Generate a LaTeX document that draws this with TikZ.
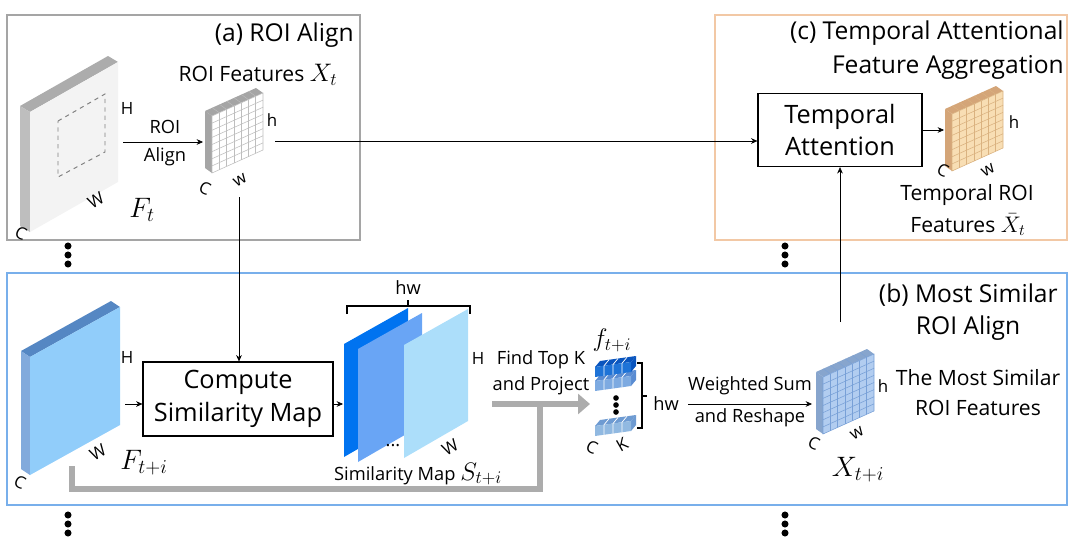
\RequirePackage{fix-cm}
\documentclass[tikz,border=0pt]{standalone}
\usepackage{fontspec}
\setmainfont{Open Sans}
\usetikzlibrary{arrows.meta}

\definecolor{grpA}{RGB}{165,165,165}
\definecolor{grpB}{RGB}{120,175,235}
\definecolor{grpC}{RGB}{242,200,165}
\definecolor{arrgray}{RGB}{172,172,172}
\definecolor{slabfront}{RGB}{243,243,243}
\definecolor{slabside}{RGB}{190,190,190}
\definecolor{slabtop}{RGB}{172,172,172}
\definecolor{bslabfront}{RGB}{145,205,250}
\definecolor{bslabside}{RGB}{130,170,220}
\definecolor{bslabtop}{RGB}{85,135,195}
\definecolor{sheetA}{RGB}{0,115,240}
\definecolor{sheetB}{RGB}{105,165,245}
\definecolor{sheetC}{RGB}{172,222,250}
\definecolor{xtfront}{RGB}{255,255,255}
\definecolor{xtline}{RGB}{190,190,190}
\definecolor{xtside}{RGB}{165,165,165}
\definecolor{tmpfront}{RGB}{248,222,180}
\definecolor{tmpline}{RGB}{218,178,128}
\definecolor{tmpside}{RGB}{212,165,120}
\definecolor{xsfront}{RGB}{178,205,240}
\definecolor{xsline}{RGB}{120,160,215}
\definecolor{xsside}{RGB}{135,165,205}
\definecolor{rowA}{RGB}{30,115,215}
\definecolor{rowAt}{RGB}{10,85,190}
\definecolor{rowB}{RGB}{125,170,225}
\definecolor{rowBt}{RGB}{90,140,210}
\definecolor{rowC}{RGB}{145,185,225}
\definecolor{rowCt}{RGB}{110,155,210}

% small ROI feature block: x, y of front bottom-left corner, front, grid, side colours
\newcommand{\roiblock}[5]{%
  \begin{scope}[shift={(#1,#2)}]
    \fill[#5] (0,-57) -- (51,-80) -- (44,-85) -- (-7,-62) -- cycle;
    \fill[#5] (0,0) -- (0,-57) -- (-7,-62) -- (-7,-5) -- cycle;
    \foreach \i in {1,...,6}
      \draw[#4, line width=0.3pt] ({\i*51/7},{-57-\i*23/7}) -- ++(-7,-5);
    \filldraw[fill=#3, draw=#4, line width=0.4pt] (0,0) -- (51,-23) -- (51,-80) -- (0,-57) -- cycle;
    \foreach \i in {1,...,6}
      \draw[#4, line width=0.4pt] ({\i*51/7},{-\i*23/7}) -- ++(0,-57);
    \foreach \j in {1,...,7}
      \draw[#4, line width=0.4pt] (0,{-\j*57/8}) -- ++(51,-23);
  \end{scope}}

\begin{document}
\begin{tikzpicture}[x=0.025cm, y=-0.025cm,
  >={Stealth[length=4.5pt,width=4pt]},
  grp/.style={line width=2pt},
  box/.style={draw, line width=0.8pt, align=center, inner sep=0pt, font=\fontsize{18}{23}\selectfont},
  ttl/.style={font=\fontsize{17.5}{21}\selectfont, inner sep=0pt},
  lbl/.style={font=\fontsize{15}{18}\selectfont, align=center, inner sep=0pt},
  arrlbl/.style={font=\fontsize{13}{16}\selectfont, inner sep=0pt},
  dim/.style={font=\fontsize{12}{14}\selectfont, inner sep=0pt},
  bigmath/.style={font=\fontsize{20}{24}\selectfont, inner sep=0pt}]
  \useasboundingbox (0,0) rectangle (1080,552);

  % frames
  \draw[grp, grpA] (7,15) rectangle (360,240);
  \draw[grp, grpC] (715,15) rectangle (1067,240);
  \draw[grp, grpB] (7,273) rectangle (1067,505);
  \foreach \px in {68,785}
    \foreach \py in {246,255,264,515,524,533}
      \fill (\px,\py) circle[radius=2.5pt];

  % (a) ROI Align
  \node[ttl, anchor=east] (ttl-a) at (354,35) {(a) ROI Align};
  \fill[slabtop] (30,112) -- (118,62) -- (108,56) -- (20,106) -- cycle;
  \fill[slabside] (30,112) -- (20,106) -- (20,226) -- (30,232) -- cycle;
  \fill[slabfront] (30,232) -- (118,182) -- (118,62) -- (30,112) -- cycle;
  \draw[gray, dashed, line width=0.7pt] (58,121) -- (105,94) -- (105,152) -- (58,177) -- cycle;
  \node[dim] (ft-H) at (127,108) {H};
  \node[dim, rotate=30] (ft-W) at (96,200) {W};
  \node[dim, rotate=-25] (ft-C) at (21,233) {C};
  \node[bigmath] (ft-lbl) at (142,210) {$F_t$};
  \coordinate (roi-in) at (123,142);
  \coordinate (roi-out) at (203,142);
  \draw[->] (roi-in) -- (roi-out);
  \node[arrlbl] (roi-a) at (165,127) {ROI};
  \node[arrlbl] (roi-b) at (165,157) {Align};
  \roiblock{212}{173}{xtfront}{xtline}{xtside}
  \node[lbl] (xt-lbl) at (258,75) {ROI Features \fontsize{18}{20}\selectfont$X_t$};
  \node[dim] (xt-h) at (272,120) {h};
  \node[dim, rotate=30] (xt-w) at (240,180) {w};
  \node[dim, rotate=-25] (xt-C) at (205,188) {C};

  % (c) Temporal Attentional Feature Aggregation
  \node[ttl, anchor=east] (ttl-c1) at (1064,33) {(c) Temporal Attentional};
  \node[ttl, anchor=east] (ttl-c2) at (1064,67) {Feature Aggregation};
  \node[box, minimum width=4.1cm, minimum height=1.83cm] (tatt) at (840,130) {Temporal\\Attention};
  \roiblock{952}{171}{tmpfront}{tmpline}{tmpside}
  \node[dim] (tr-h) at (1014,122) {h};
  \node[dim, rotate=30] (tr-w) at (988,170) {w};
  \node[dim, rotate=-25] (tr-C) at (943,170) {C};
  \node[lbl] (tr-lbl1) at (967,195) {Temporal ROI};
  \node[lbl, anchor=base] (tr-lbl2) at (968,232) {Features \fontsize{16}{20}\selectfont$\bar{X}_t$};
  \coordinate (tr-in) at (944,130);
  \draw[->] (tatt.east) -- (tr-in);

  % (b) Most Similar ROI Align
  \node[ttl, anchor=east] (ttl-b1) at (1058,295) {(b) Most Similar};
  \node[ttl] (ttl-b2) at (968,328) {ROI Align};
  \fill[bslabtop] (30,357) -- (120,307) -- (111,301) -- (21,351) -- cycle;
  \fill[bslabside] (30,357) -- (21,351) -- (21,469) -- (30,475) -- cycle;
  \fill[bslabfront] (30,475) -- (120,425) -- (120,307) -- (30,357) -- cycle;
  \node[dim] (fs-H) at (127,357) {H};
  \node[dim, rotate=30] (fs-W) at (98,452) {W};
  \node[dim, rotate=-25] (fs-C) at (20,482) {C};
  \node[bigmath] (fs-lbl) at (144,463) {$F_{t+i}$};
  \node[box, minimum width=4.75cm, minimum height=1.85cm] (cmp) at (238,399) {Compute\\Similarity Map};

  % similarity map
  \foreach \sx/\sy/\sc in {344/344/sheetA, 358/349/sheetB, 404/345/sheetC}
    \fill[\sc] (\sx,\sy) -- ++(64,-36) -- ++(0,112) -- ++(-64,37) -- cycle;
  \draw[line width=0.8pt] (347,314) -- (347,306) -- (470,306) -- (470,314);
  \draw[line width=0.8pt] (408,306) -- (408,300);
  \node[arrlbl] (sm-hw) at (408,288) {hw};
  \node[dim] (sm-H) at (478,358) {H};
  \node[dim, rotate=30] (sm-W) at (450,447) {W};
  \node[arrlbl] (sm-dots) at (393,446) {...};
  \node[arrlbl] (sm-lbl) at (418,474) {Similarity Map \fontsize{18}{20}\selectfont$S_{t+i}$};

  % gray path
  \draw[arrgray, line width=0.15cm] (72,466) -- (72,489) -- (540,489) -- (540,404);
  \draw[arrgray, line width=0.15cm, -{Triangle[length=0.3cm,width=0.5cm]}] (492,404) -- (590,404);
  \node[arrlbl] (fk-a) at (541,360) {Find Top K};
  \node[arrlbl] (fk-b) at (541,386) {and Project};

  % f_{t+i}
  \foreach \ry/\rf/\rt in {436/rowC/rowCt, 391/rowB/rowBt, 377/rowA/rowAt}{
    \fill[\rt] (595,\ry-10) -- (631,\ry-15) -- (636,\ry-21) -- (600,\ry-16) -- cycle;
    \fill[\rt] (631,\ry-5) -- (636,\ry-11) -- (636,\ry-21) -- (631,\ry-15) -- cycle;
    \fill[\rf] (595,\ry) -- (631,\ry-5) -- (631,\ry-15) -- (595,\ry-10) -- cycle;
    \foreach \k in {1,2,3}
      \draw[white, line width=0.5pt] (595+\k*9,\ry-\k*1.25) -- ++(0,-10) -- ++(5,-6);
  }
  \foreach \py in {398,405,412}
    \fill (616,\py) circle[radius=2pt];
  \node[bigmath, font=\fontsize{18}{20}\selectfont] (fv-lbl) at (612,340) {$f_{t+i}$};
  \node[dim, rotate=-25] (fv-C) at (592,447) {C};
  \node[dim, rotate=30] (fv-K) at (622,445) {K};
  \draw[line width=0.8pt] (637,363) -- (642,363) -- (642,428) -- (637,428);
  \draw[line width=0.8pt] (642,396) -- (647,396);
  \node[arrlbl] (fv-hw) at (666,404) {hw};

  % weighted sum
  \coordinate (ws-in) at (688,404);
  \coordinate (ws-out) at (812,404);
  \draw[->] (ws-in) -- (ws-out);
  \node[arrlbl] (ws-a) at (750,386) {Weighted Sum};
  \node[arrlbl] (ws-b) at (750,418) {and Reshape};
  \roiblock{823}{434}{xsfront}{xsline}{xsside}
  \node[dim] (xs-h) at (883,386) {h};
  \node[dim, rotate=30] (xs-w) at (857,433) {w};
  \node[dim, rotate=-25] (xs-C) at (814,443) {C};
  \node[bigmath] (xs-lbl) at (858,470) {$X_{t+i}$};
  \node[lbl] (xs-d1) at (978,378) {The Most Similar};
  \node[lbl] (xs-d2) at (978,408) {ROI Features};

  % connectors
  \coordinate (xt-out) at (275,141);
  \draw[->] (xt-out) -- (xt-out -| tatt.west);
  \coordinate (xt-down) at (239,197);
  \draw[->] (xt-down) -- (xt-down |- cmp.north);
  \coordinate (fs-out) at (125,404);
  \draw[->] (fs-out) -- (fs-out -| cmp.west);
  \coordinate (sm-in) at (343,404);
  \draw[->] (sm-in -| cmp.east) -- (sm-in);
  \coordinate (xs-up) at (840,322);
  \draw[->] (xs-up) -- (xs-up |- tatt.south);
\end{tikzpicture}
\end{document}
